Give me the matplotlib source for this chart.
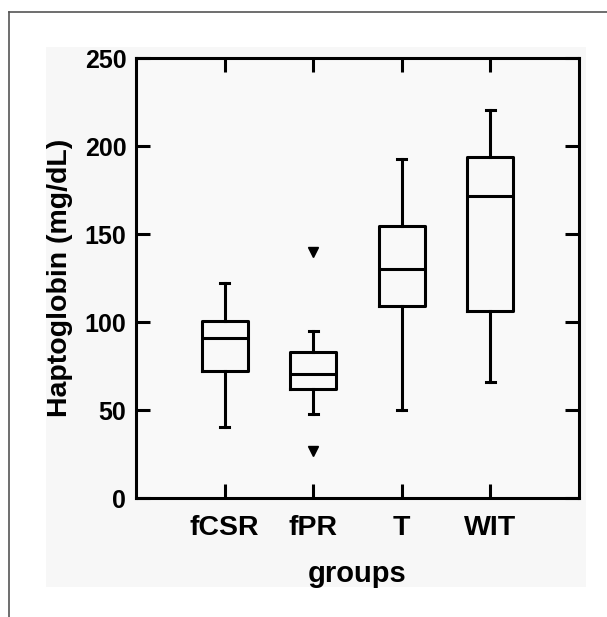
import matplotlib.pyplot as plt
from matplotlib.patches import Rectangle
from matplotlib.lines import Line2D

plt.rcParams["font.family"] = ["Liberation Sans", "DejaVu Sans"]
plt.rcParams["font.weight"] = "bold"

groups = ["fCSR", "fPR", "T", "WIT"]
whisker_low = [40.5, 48, 50, 66]
q1 = [72, 62, 109, 106]
medians = [91, 70.5, 130, 171.5]
q3 = [100.5, 83, 154.5, 193.5]
whisker_high = [122, 95, 192.5, 220.5]
outliers = [[], [26.5, 139.5], [], []]

stats = []
for i, name in enumerate(groups):
    stats.append({
        "label": name,
        "whislo": whisker_low[i],
        "q1": q1[i],
        "med": medians[i],
        "q3": q3[i],
        "whishi": whisker_high[i],
        "fliers": outliers[i],
    })

fig = plt.figure(figsize=(6.07, 6.17), dpi=100)

# light grey backdrop and the outer frame lines
W, H = 607, 617
fig.patches.append(Rectangle((46 / W, 1 - 587 / H), 540 / W, 540 / H,
                             transform=fig.transFigure, facecolor="#f7f7f7",
                             edgecolor="none", zorder=-5))
fig.lines.append(Line2D([9 / W, 1], [1 - 12 / H, 1 - 12 / H],
                        transform=fig.transFigure, color="#555555", lw=1.2))
fig.lines.append(Line2D([9 / W, 9 / W], [0, 1 - 12 / H],
                        transform=fig.transFigure, color="#555555", lw=1.2))

ax = fig.add_axes([136 / W, 1 - 498 / H, (579 - 136) / W, (498 - 58) / H])
ax.patch.set_facecolor("#f9f9f9")

lw = 2.2
ax.bxp(stats, positions=[1, 2, 3, 4], widths=0.52, capwidths=0.1,
       boxprops=dict(color="black", lw=lw),
       whiskerprops=dict(color="black", lw=lw),
       capprops=dict(color="black", lw=lw),
       medianprops=dict(color="black", lw=lw),
       flierprops=dict(marker="v", markerfacecolor="black",
                       markeredgecolor="black", markersize=7.5))

ax.set_xlim(0, 5)
ax.set_ylim(0, 250)
ax.set_yticks([0, 50, 100, 150, 200, 250])
ax.set_xticks([1, 2, 3, 4])
ax.set_xticklabels(groups)

for s in ax.spines.values():
    s.set_linewidth(2.2)
ax.tick_params(axis="both", direction="in", length=10, width=2.2,
               top=True, right=True)
ax.tick_params(axis="x", labelsize=20.5, pad=12)
ax.tick_params(axis="y", labelsize=18, pad=7)

ax.set_xlabel("groups", fontsize=21, fontweight="bold", labelpad=14)
ax.set_ylabel("Haptoglobin (mg/dL)", fontsize=20.5, fontweight="bold", labelpad=8)

fig.savefig("out.png", dpi=100)
